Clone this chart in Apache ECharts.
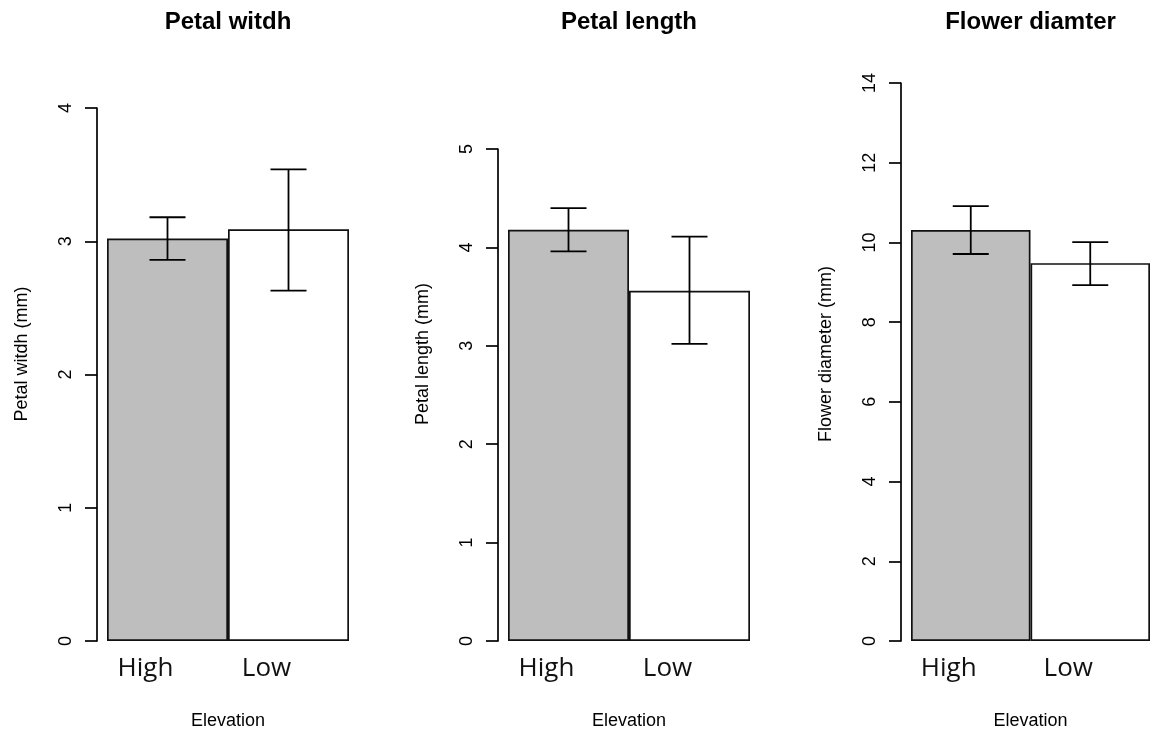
<!DOCTYPE html>
<html>
<head>
<meta charset="utf-8">
<title>Elevation</title>
<script src="https://cdn.jsdelivr.net/npm/echarts@6/dist/echarts.min.js"></script>
<style>
    html, body { margin: 0; padding: 0; background: #fff; }
    #main { width: 1152px; height: 733px; }
</style>
</head>
<body>
<div id="main"></div>
<script>
var categories = ['High', 'Low'];

// Petal width
var widthMean = [3.02, 3.09];
var widthLower = [2.86, 2.63];
var widthUpper = [3.18, 3.54];
var widthTicks = [0, 1, 2, 3, 4];

// Petal length
var lengthMean = [4.18, 3.56];
var lengthLower = [3.96, 3.02];
var lengthUpper = [4.40, 4.11];
var lengthTicks = [0, 1, 2, 3, 4, 5];

// Flower diameter
var diamMean = [10.31, 9.48];
var diamLower = [9.71, 8.93];
var diamUpper = [10.91, 10.01];
var diamTicks = [0, 2, 4, 6, 8, 10, 12, 14];

var barColors = ['#bebebe', '#ffffff'];
var axisFont = 'Liberation Sans, Arial, sans-serif';

var panels = [
    { title: 'Petal witdh', yName: 'Petal witdh (mm)', mean: widthMean, lower: widthLower, upper: widthUpper, ticks: widthTicks,
      grid: { left: 107, width: 242, top: 108, height: 533 } },
    { title: 'Petal length', yName: 'Petal length (mm)', mean: lengthMean, lower: lengthLower, upper: lengthUpper, ticks: lengthTicks,
      grid: { left: 508, width: 242, top: 149, height: 492 } },
    { title: 'Flower diamter', yName: 'Flower diameter (mm)', mean: diamMean, lower: diamLower, upper: diamUpper, ticks: diamTicks,
      grid: { left: 911, width: 239, top: 83, height: 558 } }
];

// y label centre sits at y=354 in every panel (R plot region), not at axis middle
var yNameCentre = 354;

function errorBar(params, api) {
    var x = api.value(0);
    var top = api.coord([x, api.value(2)]);
    var bot = api.coord([x, api.value(1)]);
    var hw = 18;
    var style = { stroke: '#000', lineWidth: 1.8 };
    return {
        type: 'group',
        children: [
            { type: 'line', shape: { x1: top[0], y1: top[1], x2: bot[0], y2: bot[1] }, style: style },
            { type: 'line', shape: { x1: top[0] - hw, y1: top[1], x2: top[0] + hw, y2: top[1] }, style: style },
            { type: 'line', shape: { x1: bot[0] - hw, y1: bot[1], x2: bot[0] + hw, y2: bot[1] }, style: style }
        ]
    };
}

var option = { animation: false, title: [], grid: [], xAxis: [], yAxis: [], series: [] };

panels.forEach(function (p, i) {
    var g = p.grid;
    var shift = (g.top + g.height / 2) - yNameCentre;

    option.title.push({
        text: p.title,
        left: g.left + g.width / 2,
        top: 10,
        textAlign: 'center',
        padding: 0,
        textStyle: { fontFamily: axisFont, fontSize: 24, fontWeight: 'bold', color: '#000' }
    });

    // outerBoundsMode none: keep the grid where it is, names may sit near the edge
    option.grid.push({ left: g.left, width: g.width, top: g.top, height: g.height, containLabel: false, outerBoundsMode: 'none' });

    option.xAxis.push({
        gridIndex: i,
        type: 'category',
        data: categories,
        axisLine: { show: false },
        axisTick: { show: false },
        axisLabel: {
            margin: 15,
            fontSize: 26,
            fontFamily: 'Open Sans, sans-serif',
            color: '#111',
            padding: [0, 44, 0, 0]
        },
        name: 'Elevation',
        nameLocation: 'middle',
        nameGap: 71,
        nameTextStyle: { fontFamily: axisFont, fontSize: 18, color: '#000' }
    });

    option.yAxis.push({
        gridIndex: i,
        type: 'value',
        min: p.ticks[0],
        max: p.ticks[p.ticks.length - 1],
        interval: p.ticks[1] - p.ticks[0],
        offset: 10,
        axisLine: { show: true, lineStyle: { color: '#000', width: 1.7 } },
        axisTick: { show: true, length: 12, lineStyle: { color: '#000', width: 1.7 } },
        axisLabel: { rotate: 90, margin: 22, fontSize: 18, fontFamily: axisFont, color: '#000' },
        splitLine: { show: false },
        name: p.yName,
        nameLocation: 'middle',
        nameGap: 66,
        nameTextStyle: { fontFamily: axisFont, fontSize: 18, color: '#000', padding: [0, 0, 0, 2 * shift] }
    });

    option.series.push({
        type: 'bar',
        xAxisIndex: i,
        yAxisIndex: i,
        barCategoryGap: '0%',
        silent: true,
        itemStyle: { borderColor: '#111', borderWidth: 1.7 },
        data: p.mean.map(function (v, k) {
            return { value: v, itemStyle: { color: barColors[k] } };
        })
    });

    option.series.push({
        type: 'custom',
        xAxisIndex: i,
        yAxisIndex: i,
        z: 10,
        silent: true,
        renderItem: errorBar,
        encode: { x: 0, y: [1, 2] },
        data: p.lower.map(function (lo, k) {
            return [k, lo, p.upper[k]];
        })
    });
});

var myChart = echarts.init(document.getElementById('main'));
myChart.setOption(option);

window.addEventListener('resize', function () {
    myChart.resize();
});
</script>
</body>
</html>
